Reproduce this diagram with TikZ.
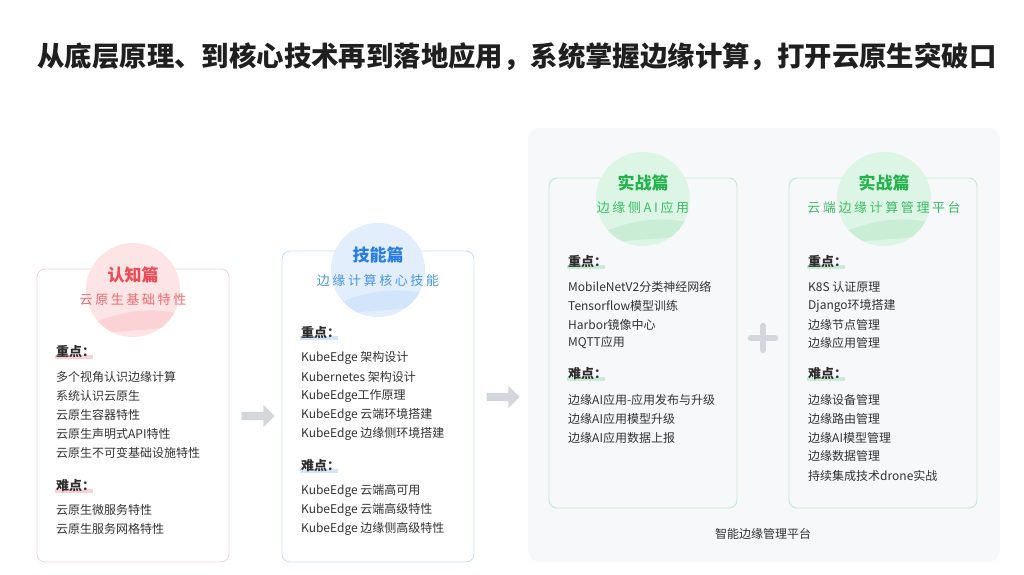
\documentclass[tikz,border=0pt]{standalone}
\usepackage{fontspec}
\setmainfont{Noto Sans CJK SC}
\usetikzlibrary{shapes.arrows,calc}
\definecolor{txt}{HTML}{333333}
\definecolor{panelbg}{HTML}{F7F8FA}
\definecolor{arrgray}{HTML}{D3D6DA}
\definecolor{pinkB}{HTML}{FBD3D6}
\definecolor{pinkC}{HTML}{FDE4E5}
\definecolor{pinkW}{HTML}{FBD3D6}
\definecolor{pinkT}{HTML}{EE4B55}
\definecolor{pinkS}{HTML}{F26A72}
\definecolor{pinkH}{HTML}{FAD0D4}
\definecolor{blueB}{HTML}{CCE0FA}
\definecolor{blueC}{HTML}{E3EEFC}
\definecolor{blueW}{HTML}{D3E5FA}
\definecolor{blueT}{HTML}{2B7DE9}
\definecolor{blueS}{HTML}{4A95EE}
\definecolor{blueH}{HTML}{D3E5FA}
\definecolor{grnB}{HTML}{C0EACC}
\definecolor{grnC}{HTML}{DDF5E4}
\definecolor{grnW}{HTML}{C9EED5}
\definecolor{grnT}{HTML}{25B24F}
\definecolor{grnS}{HTML}{3DBE68}
\definecolor{grnH}{HTML}{C8EDD4}
\tikzset{
  card/.style={rounded corners=8pt, line width=0.9pt},
  badge/.style={circle, minimum size=94pt, inner sep=0pt},
  ctitle/.style={font=\bfseries\fontsize{17}{20}\selectfont, inner sep=0pt},
  csub/.style={font=\fontsize{13}{16}\selectfont\addfontfeature{LetterSpace=20}, inner sep=0pt},
  head/.style={font=\bfseries\fontsize{13}{15}\selectfont, text=txt!90!black, anchor=west, inner sep=0pt},
  item/.style={font=\fontsize{12}{14}\selectfont, text=txt, anchor=west, inner sep=0pt},
  grayarrow/.style={single arrow, fill=arrgray, draw=none, inner sep=4pt, minimum height=33pt, single arrow head extend=7pt},
}
\newcommand{\mywave}[3]{% cx cy color
  \begin{scope}
    \clip (#1,#2) circle (47pt);
    \fill[#3] ($(#1,#2)+(-47,36)$) .. controls ($(#1,#2)+(-15,22)$) and ($(#1,#2)+(15,16)$) .. ($(#1,#2)+(47,24)$)
      -- ($(#1,#2)+(47,34)$) .. controls ($(#1,#2)+(15,44)$) and ($(#1,#2)+(-15,36)$) .. ($(#1,#2)+(-47,50)$) -- cycle;
  \end{scope}}
\begin{document}
\begin{tikzpicture}[x=1pt,y=-1pt]
\useasboundingbox (0,0) rectangle (1024,574);
\fill[white] (0,0) rectangle (1024,574);

\node[font=\bfseries\fontsize{27.4}{30}\selectfont, text=black!88, inner sep=0pt] (title) at (517,57) {从底层原理、到核心技术再到落地应用，系统掌握边缘计算，打开云原生突破口};

% panel
\fill[panelbg, rounded corners=12pt] (528,128) rectangle (1000,562);
\node[font=\fontsize{12}{14}\selectfont, text=txt, inner sep=0pt] (ptitle) at (763,534) {智能边缘管理平台};

% ---------- card 1 ----------
\draw[card, draw=pinkB, fill=white] (37,269) rectangle (229,562);
\node[badge, fill=pinkC] (b1) at (133,290) {};
\mywave{133}{290}{pinkW}
\node[ctitle, text=pinkT] (t1) at (133,275) {认知篇};
\node[csub, text=pinkS] (s1) at (133,300) {云原生基础特性};
\fill[pinkH] (55,355) rectangle (93,359);
\node[head] (h1a) at (56,352) {重点：};
\node[item] (i1a) at (56,377) {多个视角认识边缘计算};
\node[item] (i1b) at (56,396) {系统认识云原生};
\node[item] (i1c) at (56,415) {云原生容器特性};
\node[item] (i1d) at (56,434) {云原生声明式API特性};
\node[item] (i1e) at (56,453) {云原生不可变基础设施特性};
\fill[pinkH] (55,489) rectangle (93,493);
\node[head] (h1b) at (56,486) {难点：};
\node[item] (i1f) at (56,510) {云原生微服务特性};
\node[item] (i1g) at (56,529) {云原生服务网格特性};

% ---------- card 2 ----------
\draw[card, draw=blueB, fill=white] (282,251) rectangle (474,562);
\node[badge, fill=blueC] (b2) at (378,270) {};
\mywave{378}{270}{blueW}
\node[ctitle, text=blueT] (t2) at (378,255) {技能篇};
\node[csub, text=blueS] (s2) at (378,281) {边缘计算核心技能};
\fill[blueH] (300,336) rectangle (338,340);
\node[head] (h2a) at (301,333) {重点：};
\node[item] (i2a) at (301,358) {KubeEdge 架构设计};
\node[item] (i2b) at (301,377) {Kubernetes 架构设计};
\node[item] (i2c) at (301,396) {KubeEdge工作原理};
\node[item] (i2d) at (301,415) {KubeEdge 云端环境搭建};
\node[item] (i2e) at (301,434) {KubeEdge 边缘侧环境搭建};
\fill[blueH] (300,469) rectangle (338,473);
\node[head] (h2b) at (301,466) {难点：};
\node[item] (i2f) at (301,491) {KubeEdge 云端高可用};
\node[item] (i2g) at (301,510) {KubeEdge 云端高级特性};
\node[item] (i2h) at (301,529) {KubeEdge 边缘侧高级特性};

% ---------- card 3 ----------
\draw[card, draw=grnB, fill=panelbg] (549,178) rectangle (737,508);
\node[badge, fill=grnC] (b3) at (643,199) {};
\mywave{643}{199}{grnW}
\node[ctitle, text=grnT] (t3) at (643,183) {实战篇};
\node[csub, text=grnS] (s3) at (643,208) {边缘侧AI应用};
\fill[grnH] (567,265) rectangle (605,269);
\node[head] (h3a) at (568,262) {重点：};
\node[item] (i3a) at (568,287) {MobileNetV2分类神经网络};
\node[item] (i3b) at (568,306) {Tensorflow模型训练};
\node[item] (i3c) at (568,325) {Harbor镜像中心};
\node[item] (i3d) at (568,343) {MQTT应用};
\fill[grnH] (567,377) rectangle (605,381);
\node[head] (h3b) at (568,374) {难点：};
\node[item] (i3e) at (568,400) {边缘AI应用-应用发布与升级};
\node[item] (i3f) at (568,419) {边缘AI应用模型升级};
\node[item] (i3g) at (568,438) {边缘AI应用数据上报};

% ---------- card 4 ----------
\draw[card, draw=grnB, fill=panelbg] (789,178) rectangle (977,508);
\node[badge, fill=grnC] (b4) at (884,199) {};
\mywave{884}{199}{grnW}
\node[ctitle, text=grnT] (t4) at (884,183) {实战篇};
\node[csub, text=grnS] (s4) at (884,208) {云端边缘计算管理平台};
\fill[grnH] (807,265) rectangle (845,269);
\node[head] (h4a) at (808,262) {重点：};
\node[item] (i4a) at (808,287) {K8S 认证原理};
\node[item] (i4b) at (808,306) {Django环境搭建};
\node[item] (i4c) at (808,325) {边缘节点管理};
\node[item] (i4d) at (808,343) {边缘应用管理};
\fill[grnH] (807,377) rectangle (845,381);
\node[head] (h4b) at (808,374) {难点：};
\node[item] (i4e) at (808,400) {边缘设备管理};
\node[item] (i4f) at (808,419) {边缘路由管理};
\node[item] (i4g) at (808,438) {边缘AI模型管理};
\node[item] (i4h) at (808,456) {边缘数据管理};
\node[item] (i4i) at (808,476) {持续集成技术drone实战};

% arrows and plus
\node[grayarrow] (a1) at (256,416) {};
\node[grayarrow] (a2) at (501,397) {};
\draw[arrgray, line width=6.5pt, line cap=round] (751,338) -- (775,338) (763,326) -- (763,350);
\end{tikzpicture}
\end{document}
